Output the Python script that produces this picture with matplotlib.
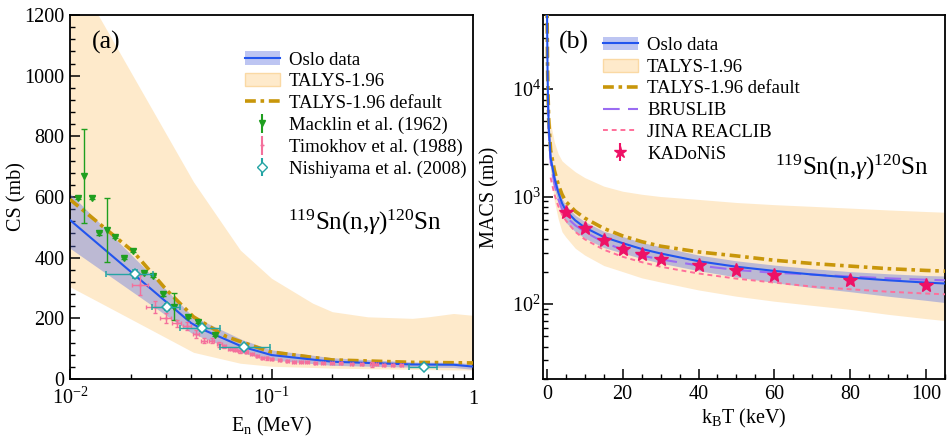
import numpy as np
import matplotlib.pyplot as plt
from matplotlib.patches import Patch
from matplotlib.lines import Line2D
from matplotlib.ticker import FixedLocator, FixedFormatter, MultipleLocator, LogLocator, NullFormatter

plt.rcParams['font.family'] = ['Liberation Serif', 'DejaVu Serif']
plt.rcParams['mathtext.fontset'] = 'custom'
plt.rcParams['mathtext.rm'] = 'Liberation Serif'
plt.rcParams['mathtext.it'] = 'Liberation Serif:italic'

# ---------------- panel (a): cross section vs En ----------------
E_oslo = [0.01, 0.04, 0.046, 0.072, 0.1, 0.2, 0.5, 0.8, 1.0]
cs_oslo = [524, 184, 162, 106, 79, 57, 48, 47, 41]
cs_oslo_hi = [612, 211, 190, 129, 96, 70, 56, 55, 50]
cs_oslo_lo = [431, 152, 135, 86, 63, 45, 39, 38, 32]

E_talys = [0.01, 0.0138, 0.041, 0.07, 0.1, 0.16, 0.2, 0.3, 0.5, 0.6, 0.8, 1.0]
cs_talys_hi = [1370, 1200, 650, 425, 332, 250, 222, 205, 200, 205, 216, 210]
cs_talys_lo = [304, 255, 88, 52, 42, 38, 36, 34, 32, 31, 30, 30]

E_def = [0.01, 0.0206, 0.0302, 0.041, 0.06, 0.098, 0.2, 0.5, 1.0]
cs_def = [592, 420, 293, 205, 139, 90, 63, 55, 53]

E_mack = [0.0110, 0.01178, 0.0129, 0.0140, 0.0152, 0.01675, 0.0186, 0.02066,
          0.0232, 0.0257, 0.0289, 0.0329, 0.0385, 0.0432, 0.0523]
cs_mack = [596, 669, 598, 480, 491, 469, 398, 423, 350, 340, 279, 238, 205, 189, 145]
err_mack = [4, 155, 4, 4, 105, 4, 4, 4, 4, 4, 4, 45, 4, 4, 4]

E_timo = [0.0223, 0.0264, 0.0299, 0.0339, 0.038, 0.0422, 0.0462, 0.0505, 0.055,
          0.058, 0.062, 0.066, 0.070, 0.075, 0.080, 0.085, 0.090, 0.095, 0.10,
          0.11, 0.12, 0.13, 0.14, 0.15, 0.165, 0.18, 0.20, 0.22, 0.25, 0.28,
          0.314, 0.33, 0.36, 0.40, 0.44]
cs_timo = [310, 238, 202, 184, 175, 148, 126, 126, 115,
           108, 100, 96, 92, 90, 82, 76, 70, 68, 66,
           62, 59, 57, 56, 55, 54, 54, 53, 52, 51, 50,
           49, 48, 47, 47, 46]
xerr_timo = [0.0021, 0.0025, 0.0018, 0.0017, 0.0018, 0.0015, 0.0015, 0.0015, 0.0015,
             0.0015, 0.0015, 0.0015, 0.0015, 0.0015, 0.0015, 0.0015, 0.0015, 0.0015, 0.002,
             0.002, 0.002, 0.003, 0.003, 0.003, 0.003, 0.004, 0.004, 0.004, 0.005, 0.005,
             0.005, 0.006, 0.006, 0.007, 0.007]
yerr_timo = [33, 20, 17, 12, 12, 12, 8, 8, 8,
             5, 5, 5, 5, 5, 4, 4, 4, 4, 4,
             3, 3, 3, 3, 3, 3, 3, 3, 3, 3, 3,
             8, 3, 3, 3, 3]

E_nishi = [0.02104, 0.0303, 0.0454, 0.0728, 0.569]
cs_nishi = [346, 238, 167, 107, 41]
xlo_nishi = [0.0151, 0.0255, 0.0352, 0.0557, 0.479]
xhi_nishi = [0.0258, 0.0352, 0.0553, 0.0988, 0.663]
yerr_nishi = [12, 10, 8, 6, 6]

# ---------------- panel (b): MACS vs kT ----------------
kT = [0.05, 0.1, 0.2, 0.3, 0.5, 1, 2, 3, 4, 5, 7.5, 10, 15, 20, 25, 30,
      40, 50, 60, 70, 80, 90, 100, 105]
macs_oslo = [70000, 35000, 14000, 8500, 4500, 2300, 1500, 1100, 870, 740, 600, 515, 420,
             368, 325, 295, 250, 222, 203, 188, 176, 166, 158, 155]
macs_oslo_hi = [78000, 39000, 15700, 9500, 5000, 2550, 1650, 1220, 960, 830, 670, 585, 475,
                424, 375, 340, 285, 252, 230, 213, 200, 191, 184, 182]
macs_oslo_lo = [56000, 28000, 11200, 6800, 3600, 1850, 1200, 880, 690, 575, 470, 410, 335,
                297, 265, 240, 204, 178, 158, 142, 130, 118, 108, 103]
macs_def = [80000, 40000, 16000, 9800, 5200, 2700, 1750, 1300, 1050, 900, 730, 630, 505,
            430, 380, 345, 305, 280, 255, 238, 225, 213, 205, 202]

kT_talys = [0.5, 1, 2, 3, 4, 5, 7.5, 10, 15, 20, 25, 30, 40, 50, 60, 70, 80, 90, 100, 105]
macs_talys_hi = [6500, 4800, 3200, 2500, 2150, 2000, 1700, 1500, 1250, 1120, 1050, 1000,
                 940, 880, 840, 810, 780, 750, 725, 714]
macs_talys_lo = [3000, 1700, 900, 620, 470, 420, 330, 285, 228, 200, 175, 160,
                 135, 118, 106, 97, 89, 80, 73, 70]

kT_brus = [0.3, 0.5, 1, 2, 3, 4, 5, 7.5, 10, 15, 20, 25, 30, 40, 50, 60, 70, 80, 90, 100, 105]
macs_brus = [8000, 4200, 2100, 1300, 950, 770, 650, 540, 470, 375, 320, 282, 260, 228,
             207, 195, 188, 180, 173, 168, 166]

kT_jina = [1, 2, 3, 4, 5, 7.5, 10, 15, 20, 25, 30, 40, 50, 60, 70, 80, 90, 100, 105]
macs_jina = [1500, 1050, 820, 680, 600, 470, 400, 320, 275, 245, 222, 192, 172, 158,
             145, 137, 130, 125, 123]

kT_kad = [5, 10, 15, 20, 25, 30, 40, 50, 60, 80, 100]
macs_kad = [714, 504, 392, 328, 289, 263, 229, 205, 187, 166, 150]
err_kad = [40, 25, 20, 16, 14, 12, 11, 10, 9, 8, 8]

c_blue = '#2255ee'
c_band = '#5a70e0'
c_talys = '#feeacb'
c_gold = '#c8960a'
dashdot = (0, (3.0, 1.3, 1.0, 1.3))

fig = plt.figure(figsize=(9.47, 4.37), dpi=100)
axa = fig.add_axes([0.0739, 0.1327, 0.4256, 0.833])
axb = fig.add_axes([0.5734, 0.1327, 0.4245, 0.833])

# panel (a)
axa.fill_between(E_talys, cs_talys_lo, cs_talys_hi, color=c_talys, lw=0, zorder=1)
axa.fill_between(E_oslo, cs_oslo_lo, cs_oslo_hi, color=c_band, alpha=0.4, lw=0, zorder=2)
axa.plot(E_def, cs_def, color=c_gold, lw=2.6, ls=dashdot, zorder=3)
axa.plot(E_oslo, cs_oslo, color=c_blue, lw=1.5, zorder=4)
axa.errorbar(E_mack, cs_mack, yerr=err_mack, fmt='v', color='#1f9f1f', ms=4,
             elinewidth=1, capsize=2, zorder=5)
axa.errorbar(E_timo, cs_timo, xerr=xerr_timo, yerr=yerr_timo, fmt='+', color='#f4709c',
             ms=3, elinewidth=1, capsize=1.5, zorder=5)
xerr_n = [np.subtract(E_nishi, xlo_nishi), np.subtract(xhi_nishi, E_nishi)]
axa.errorbar(E_nishi, cs_nishi, xerr=xerr_n, yerr=yerr_nishi, fmt='D', color='#24a4a4',
             mfc='white', mew=1.1, ms=5, elinewidth=1, capsize=2, zorder=6)

axa.set_xscale('log')
axa.set_xlim(0.01, 1)
axa.set_ylim(0, 1200)
axa.xaxis.set_major_locator(FixedLocator([0.01, 0.1, 1]))
axa.xaxis.set_major_formatter(FixedFormatter([r'$10^{-2}$', r'$10^{-1}$', '1']))
axa.xaxis.set_minor_locator(LogLocator(base=10, subs=np.arange(2, 10)))
axa.xaxis.set_minor_formatter(NullFormatter())
axa.yaxis.set_major_locator(MultipleLocator(200))
axa.yaxis.set_minor_locator(MultipleLocator(40))
axa.set_xlabel(r'E$_{\rm n}$ (MeV)', fontsize=14.5)
axa.set_ylabel('CS (mb)', fontsize=14.5)
axa.xaxis.set_label_coords(0.5, -0.098)
axa.yaxis.set_label_coords(-0.107, 0.5)
axa.text(0.055, 0.925, '(a)', transform=axa.transAxes, fontsize=18.5, va='center')
axa.text(0.54, 0.43, r'$^{119}$Sn(n,$\gamma$)$^{120}$Sn', transform=axa.transAxes,
         fontsize=18, va='center')

h_oslo = (Patch(facecolor=c_band, alpha=0.4, lw=0), Line2D([], [], color=c_blue, lw=1.5))
h_talys = Patch(facecolor=c_talys, edgecolor='#fad9a4', lw=1)
h_def = Line2D([], [], color=c_gold, lw=2.6, ls=dashdot)
h_mack = axa.errorbar([], [], yerr=[], fmt='v', color='#1f9f1f', ms=4, capsize=2)
h_timo = axa.errorbar([], [], yerr=[], fmt='+', color='#f4709c', ms=3, capsize=2)
h_nishi = axa.errorbar([], [], yerr=[], fmt='D', color='#24a4a4', mfc='white', ms=5, capsize=2)
axa.legend([h_oslo, h_talys, h_def, h_mack, h_timo, h_nishi],
           ['Oslo data', 'TALYS-1.96', 'TALYS-1.96 default', 'Macklin et al. (1962)',
            'Timokhov et al. (1988)', 'Nishiyama et al. (2008)'],
           loc='upper left', bbox_to_anchor=(0.434, 0.9), frameon=False, fontsize=13.5,
           handlelength=1.85, handletextpad=0.5, labelspacing=0.245, borderpad=0,
           borderaxespad=0)

# panel (b)
axb.fill_between(kT_talys, macs_talys_lo, macs_talys_hi, color=c_talys, lw=0, zorder=1)
axb.fill_between(kT, macs_oslo_lo, macs_oslo_hi, color=c_band, alpha=0.4, lw=0, zorder=2)
axb.plot(kT, macs_def, color=c_gold, lw=2.6, ls=dashdot, zorder=3)
axb.plot(kT_jina, macs_jina, color='#ff6f9a', lw=1.4, ls=(0, (2.5, 2)), zorder=3)
axb.plot(kT_brus, macs_brus, color='#9a6cf2', lw=1.5, ls=(0, (8, 4)), zorder=3)
axb.plot(kT, macs_oslo, color=c_blue, lw=1.5, zorder=4)
axb.errorbar(kT_kad, macs_kad, yerr=err_kad, fmt='*', color='#ee1166', ms=10,
             elinewidth=1, capsize=2, zorder=5)

axb.set_yscale('log')
axb.set_xlim(-1, 105)
axb.set_ylim(20, 49000)
axb.xaxis.set_major_locator(MultipleLocator(20))
axb.xaxis.set_minor_locator(MultipleLocator(5))
axb.set_xlabel(r'k$_{\rm B}$T (keV)', fontsize=14.5)
axb.set_ylabel('MACS (mb)', fontsize=14.5)
axb.xaxis.set_label_coords(0.5, -0.077)
axb.yaxis.set_label_coords(-0.109, 0.5)
axb.text(0.04, 0.925, '(b)', transform=axb.transAxes, fontsize=18.5, va='center')
axb.text(0.577, 0.58, r'$^{119}$Sn(n,$\gamma$)$^{120}$Sn', transform=axb.transAxes,
         fontsize=18, va='center')

h_brus = Line2D([], [], color='#9a6cf2', lw=1.5, ls=(0, (8, 4)))
h_jina = Line2D([], [], color='#ff6f9a', lw=1.4, ls=(0, (2.5, 2)))
h_kad = axb.errorbar([], [], yerr=[], fmt='*', color='#ee1166', ms=9, capsize=2)
axb.legend([h_oslo, h_talys, h_def, h_brus, h_jina, h_kad],
           ['Oslo data', 'TALYS-1.96', 'TALYS-1.96 default', 'BRUSLIB', 'JINA REACLIB',
            'KADoNiS'],
           loc='upper left', bbox_to_anchor=(0.149, 0.94), frameon=False, fontsize=13.5,
           handlelength=1.85, handletextpad=0.5, labelspacing=0.245, borderpad=0,
           borderaxespad=0)

for ax in (axa, axb):
    for s in ax.spines.values():
        s.set_linewidth(1.3)
    ax.tick_params(which='both', direction='in', top=False, right=False, labelsize=14.5)
    ax.tick_params(which='major', length=7.5, width=1.1, pad=4)
    ax.tick_params(which='minor', length=3.8, width=1.0)
axb.tick_params(axis='y', which='major', pad=1.5)
axa.tick_params(axis='x', which='major', pad=18)
for lab in axa.get_xticklabels():
    lab.set_verticalalignment('baseline')

fig.savefig('out.png', dpi=100)
